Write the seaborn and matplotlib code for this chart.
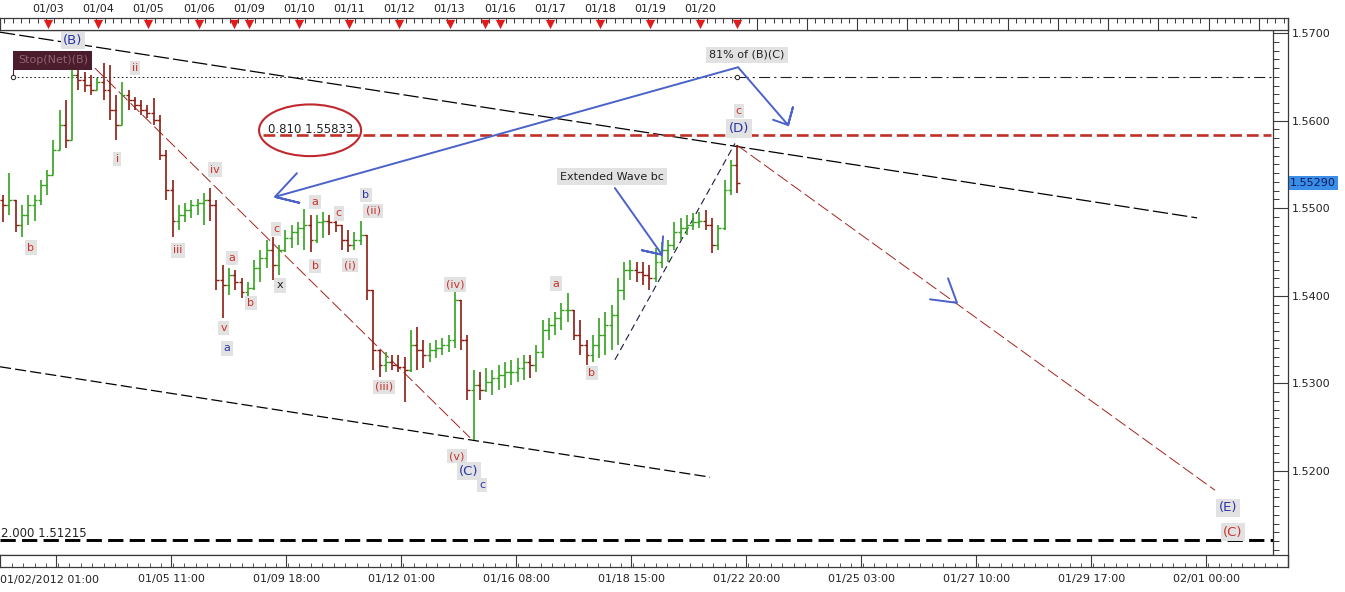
import matplotlib
matplotlib.use("Agg")
import matplotlib.pyplot as plt
from matplotlib.patches import Ellipse
from matplotlib.lines import Line2D
from matplotlib.ticker import MultipleLocator, FixedLocator
import matplotlib.transforms as mtransforms
import numpy as np
import seaborn as sns

sns.set_theme(style="white")
plt.rcParams["font.family"] = ["DejaVu Sans"]
plt.rcParams["lines.scale_dashes"] = False

# ---------------------------------------------------------------- data
# 3-hour OHLC bars, x axis counted in trading hours from 01/02 01:00
highs = [1.5515, 1.5540, 1.5509, 1.5504, 1.5515, 1.5515, 1.5532, 1.5544, 1.5578, 1.5612,
         1.5624, 1.5661, 1.5660, 1.5655, 1.5652, 1.5649, 1.5666, 1.5664, 1.5629, 1.5644,
         1.5635, 1.5627, 1.5624, 1.5618, 1.5626, 1.5606, 1.5566, 1.5532, 1.5504, 1.5506,
         1.5509, 1.5511, 1.5517, 1.5523, 1.5509, 1.5435, 1.5432, 1.5430, 1.5420, 1.5416,
         1.5441, 1.5452, 1.5464, 1.5467, 1.5458, 1.5475, 1.5481, 1.5484, 1.5499, 1.5492,
         1.5492, 1.5496, 1.5492, 1.5496, 1.5481, 1.5475, 1.5473, 1.5486, 1.5469, 1.5407,
         1.5338, 1.5336, 1.5332, 1.5332, 1.5330, 1.5361, 1.5364, 1.5350, 1.5346, 1.5350,
         1.5352, 1.5355, 1.5409, 1.5395, 1.5355, 1.5315, 1.5313, 1.5318, 1.5315, 1.5321,
         1.5324, 1.5327, 1.5329, 1.5332, 1.5332, 1.5344, 1.5372, 1.5375, 1.5381, 1.5392,
         1.5403, 1.5384, 1.5372, 1.5350, 1.5355, 1.5375, 1.5381, 1.5390, 1.5420, 1.5439,
         1.5441, 1.5439, 1.5439, 1.5435, 1.5455, 1.5461, 1.5464, 1.5484, 1.5489, 1.5492,
         1.5494, 1.5496, 1.5498, 1.5489, 1.5481, 1.5532, 1.5555, 1.5572]
lows = [1.5484, 1.5492, 1.5473, 1.5467, 1.5481, 1.5486, 1.5504, 1.5515, 1.5538, 1.5566,
        1.5569, 1.5578, 1.5635, 1.5633, 1.5629, 1.5635, 1.5624, 1.5601, 1.5578, 1.5595,
        1.5612, 1.5612, 1.5606, 1.5603, 1.5595, 1.5555, 1.5509, 1.5467, 1.5475, 1.5484,
        1.5489, 1.5492, 1.5481, 1.5486, 1.5407, 1.5375, 1.5401, 1.5407, 1.5398, 1.5395,
        1.5407, 1.5416, 1.5432, 1.5418, 1.5424, 1.5450, 1.5455, 1.5458, 1.5452, 1.5450,
        1.5460, 1.5466, 1.5469, 1.5473, 1.5452, 1.5450, 1.5452, 1.5458, 1.5395, 1.5315,
        1.5307, 1.5313, 1.5315, 1.5313, 1.5279, 1.5313, 1.5315, 1.5318, 1.5324, 1.5329,
        1.5332, 1.5336, 1.5340, 1.5338, 1.5281, 1.5235, 1.5281, 1.5290, 1.5287, 1.5293,
        1.5295, 1.5298, 1.5302, 1.5304, 1.5306, 1.5313, 1.5329, 1.5350, 1.5355, 1.5361,
        1.5370, 1.5350, 1.5332, 1.5321, 1.5324, 1.5329, 1.5332, 1.5338, 1.5344, 1.5395,
        1.5418, 1.5416, 1.5412, 1.5407, 1.5416, 1.5432, 1.5439, 1.5452, 1.5464, 1.5469,
        1.5475, 1.5477, 1.5475, 1.5449, 1.5452, 1.5475, 1.5515, 1.5517]
closes = [1.5504, 1.5509, 1.5481, 1.5492, 1.5504, 1.5509, 1.5526, 1.5538, 1.5566, 1.5595,
          1.5578, 1.5652, 1.5646, 1.5641, 1.5635, 1.5644, 1.5635, 1.5612, 1.5595, 1.5629,
          1.5624, 1.5618, 1.5612, 1.5609, 1.5601, 1.5561, 1.5521, 1.5486, 1.5492, 1.5498,
          1.5504, 1.5506, 1.5509, 1.5504, 1.5418, 1.5412, 1.5424, 1.5416, 1.5404, 1.5409,
          1.5432, 1.5443, 1.5452, 1.5435, 1.5452, 1.5466, 1.5473, 1.5477, 1.5481, 1.5464,
          1.5484, 1.5486, 1.5484, 1.5481, 1.5464, 1.5458, 1.5464, 1.5469, 1.5407, 1.5338,
          1.5321, 1.5324, 1.5321, 1.5319, 1.5315, 1.5344, 1.5338, 1.5332, 1.5338, 1.5340,
          1.5344, 1.5350, 1.5395, 1.5350, 1.5293, 1.5298, 1.5293, 1.5302, 1.5306, 1.5310,
          1.5313, 1.5313, 1.5318, 1.5324, 1.5321, 1.5336, 1.5361, 1.5367, 1.5375, 1.5384,
          1.5384, 1.5355, 1.5344, 1.5332, 1.5344, 1.5355, 1.5367, 1.5378, 1.5407, 1.5430,
          1.5430, 1.5427, 1.5424, 1.5420, 1.5439, 1.5452, 1.5458, 1.5473, 1.5477, 1.5481,
          1.5484, 1.5486, 1.5481, 1.5458, 1.5477, 1.5521, 1.5549, 1.5529]
first_open = 1.5509
last_price = 1.55290

# fib levels
fib_081 = 1.55833
fib_200 = 1.51215
stop_level = 1.5650

# trendlines (hours, price)
upper_trend_h = [0, 572.5]
upper_trend_p = [1.5701, 1.5489]
lower_trend_h = [0, 339.6]
lower_trend_p = [1.5319, 1.5193]
wave_c_h = [45.4, 224.8]
wave_c_p = [1.5660, 1.5238]
wave_e_h = [352.5, 581.1]
wave_e_p = [1.5572, 1.5178]
ext_trend_h = [294.1, 351.5]
ext_trend_p = [1.5327, 1.5574]

# blue arrows (hours, price)
arrow1_h = [142.0, 131.5, 143.5, 131.5, 353.0, 376.9, 379.3, 376.9, 369.7]
arrow1_p = [1.5540, 1.5513, 1.5506, 1.5513, 1.5661, 1.5595, 1.5616, 1.5595, 1.5601]
arrow2_h = [294.1, 316.6, 307.0, 316.6, 317.1]
arrow2_p = [1.5523, 1.5447, 1.5452, 1.5447, 1.5468]
arrow3_h = [444.8, 457.7, 453.4]
arrow3_p = [1.5396, 1.5392, 1.5420]

# wave labels
label_text = ["(B)", "ii", "i", "b", "iii", "iv", "a", "b", "v", "a", "c", "x", "a", "b",
              "c", "(i)", "(ii)", "b", "(iii)", "(iv)", "(v)", "(C)", "c", "a", "b", "c",
              "(D)", "(E)", "(C)"]
label_h = [34.9, 64.6, 56.0, 14.8, 85.1, 102.8, 111.0, 120.0, 107.1, 108.6, 132.0, 133.9,
           150.7, 150.7, 162.1, 167.4, 178.4, 175.0, 183.7, 217.6, 218.6, 224.3, 230.5,
           265.9, 283.1, 353.4, 353.4, 587.3, 589.7]
label_p = [1.5692, 1.5660, 1.5556, 1.5455, 1.5452, 1.5544, 1.5443, 1.5392, 1.5363, 1.5340,
           1.5476, 1.5412, 1.5507, 1.5434, 1.5494, 1.5435, 1.5497, 1.5515, 1.5296, 1.5413,
           1.5217, 1.5200, 1.5184, 1.5414, 1.5312, 1.5611, 1.5591, 1.5158, 1.5130]
label_kind = ["B", "r", "r", "r", "r", "r", "r", "r", "r", "b", "r", "k", "r", "r",
              "r", "r", "r", "b", "r", "r", "r", "B", "b", "r", "r", "r",
              "B", "B", "R"]

# axis ticks
day_labels = ["01/03", "01/04", "01/05", "01/06", "01/09", "01/10", "01/11", "01/12",
              "01/13", "01/16", "01/17", "01/18", "01/19", "01/20"]
day_hours = [23, 47, 71, 95, 119, 143, 167, 191, 215, 239, 263, 287, 311, 335]
week_end_hours = [112, 232, 352.5]
future_day_hours = [362, 386, 410, 434, 458, 482, 506, 530, 554, 578, 602]
time_labels = ["01/05 11:00", "01/09 18:00", "01/12 01:00", "01/16 08:00", "01/18 15:00",
               "01/22 20:00", "01/25 03:00", "01/27 10:00", "01/29 17:00", "02/01 00:00"]
time_hours = [82, 137, 192, 247, 302, 357, 412, 467, 522, 577]
price_ticks = [1.5200, 1.5300, 1.5400, 1.5500, 1.5600, 1.5700]

# ---------------------------------------------------------------- layout
W, H = 1345, 592
PX_PER_HOUR = 115 / 55


def frac(x0, y0, x1, y1):
    return [x0 / W, 1 - y1 / H, (x1 - x0) / W, (y1 - y0) / H]


UP = "#34a21f"
DOWN = "#8a1b12"
RED = "#c8322b"
BLUE = "#2a35a8"
BLUE_LINE = "#4b62c9"
FRAME = "#3a3a3a"
LABEL_COLORS = {"r": RED, "R": RED, "b": BLUE, "B": BLUE, "k": "#222222"}

fig = plt.figure(figsize=(13.45, 5.92), dpi=100)
fig.patch.set_facecolor("white")
ax = fig.add_axes(frac(0, 30, 1273, 555))
ax_top = fig.add_axes(frac(0, 18, 1288, 30))
ax_bot = fig.add_axes(frac(0, 555, 1288, 567))

ax.set_xlim(0, 1273 / PX_PER_HOUR)
ax.set_ylim(1.51041, 1.57035)
ax.set_facecolor("white")
for s in ["top", "bottom", "right"]:
    ax.spines[s].set_color(FRAME)
    ax.spines[s].set_linewidth(0.9)
ax.spines["left"].set_visible(False)

# price bars
bar_x = np.arange(len(closes)) * 3 + 1.5
opens = [first_open] + closes[:-1]
cols = np.where(np.array(closes) >= np.array(opens), UP, DOWN)
ax.vlines(bar_x, lows, highs, colors=cols, lw=1.2, zorder=3)
ax.hlines(opens, bar_x - 1.4, bar_x, colors=cols, lw=1.0, zorder=3)
ax.hlines(closes, bar_x, bar_x + 1.4, colors=cols, lw=1.0, zorder=3)

# trendlines
ax.plot(upper_trend_h, upper_trend_p, color="black", lw=0.9, dashes=(11, 3), zorder=2)
ax.plot(lower_trend_h, lower_trend_p, color="black", lw=0.9, dashes=(8, 3), zorder=2)
ax.plot(wave_c_h, wave_c_p, color="#a3231c", lw=0.7, dashes=(9, 3), zorder=2)
ax.plot(wave_e_h, wave_e_p, color="#a3231c", lw=0.7, dashes=(9, 3), zorder=2)
ax.plot(ext_trend_h, ext_trend_p, color="#1a1a40", lw=0.8, dashes=(5, 3), zorder=2)

# stop level
ax.plot([6.2, 352.5], [stop_level, stop_level], color="#222222", lw=0.7,
        dashes=(1.2, 1.8), zorder=2)
ax.plot([352.5, 1273 / PX_PER_HOUR], [stop_level, stop_level], color="#222222", lw=0.8,
        dashes=(8, 3, 1.5, 3), zorder=2)
ax.plot([6.2, 6.2], [stop_level, 1.5661], color="#4b1c2c", lw=0.8, zorder=2)
sns.scatterplot(x=[6.2, 352.5], y=[stop_level, stop_level], ax=ax, marker="o", s=10,
                color="white", edgecolor="#222222", linewidth=0.7, zorder=6, legend=False)
ax.text(8.5, 1.5669, "Stop(Net)(B)", fontsize=8, color="#8f6474", ha="left", va="center",
        zorder=7, bbox=dict(boxstyle="square,pad=0.4", fc="#4b1c2c", ec="none"))

# fib lines
ax.plot([125.8, 607.9], [fib_081, fib_081], color="#c03025", lw=1.9, dashes=(8.5, 3.5), zorder=4)
ax.text(128.2, fib_081 + 0.00025, f"0.810 {fib_081:.5f}", fontsize=8.5, color="#222222",
        ha="left", va="baseline", zorder=5)
ax.add_patch(Ellipse((148.3, 1.5589), 48.8, 0.0059, fill=False, ec="#c0282d", lw=1.5, zorder=5))
ax.plot([0, 1273 / PX_PER_HOUR], [fib_200, fib_200], color="black", lw=2.1, dashes=(11, 4.5),
        zorder=4)
ax.text(0.5, fib_200 + 0.0003, f"2.000 {fib_200:.5f}", fontsize=8.5, color="#222222",
        ha="left", va="baseline", zorder=5)

# blue arrows
ax.plot(arrow1_h, arrow1_p, color=BLUE_LINE, lw=1.4, zorder=5, solid_joinstyle="miter")
ax.plot(arrow2_h, arrow2_p, color=BLUE_LINE, lw=1.4, zorder=5)
ax.plot(arrow3_h, arrow3_p, color=BLUE_LINE, lw=1.4, zorder=5)

# text boxes
box = dict(boxstyle="square,pad=0.2", fc="#e2e2e2", ec="none")
for t, h, p, k in zip(label_text, label_h, label_p, label_kind):
    big = k in ("B", "R")
    ax.text(h, p, t, fontsize=9.5 if big else 8, color=LABEL_COLORS[k], ha="center",
            va="center", zorder=7, bbox=box)
ax.text(292.7, 1.5536, "Extended Wave bc", fontsize=8, color="#222222", ha="center",
        va="center", zorder=7, bbox=dict(boxstyle="square,pad=0.3", fc="#e2e2e2", ec="none"))
ax.text(357.3, 1.5675, "81% of (B)(C)", fontsize=8, color="#222222", ha="center",
        va="center", zorder=7, bbox=dict(boxstyle="square,pad=0.3", fc="#e2e2e2", ec="none"))

# price axis on the right
ax.yaxis.tick_right()
ax.yaxis.set_major_locator(FixedLocator(price_ticks))
ax.yaxis.set_minor_locator(MultipleLocator(0.001))
ax.set_yticklabels([f"{v:.4f}" for v in price_ticks])
ax.tick_params(axis="y", which="major", direction="out", length=10.8, width=0.8,
               color=FRAME, labelsize=8, labelcolor="#222222", pad=3, right=True, left=False)
ax.tick_params(axis="y", which="minor", direction="out", length=4, width=0.7,
               color=FRAME, right=True, left=False)
ax.set_xticks([])
trans = mtransforms.blended_transform_factory(ax.transAxes, ax.transData)
ax.text(1290 / 1273, last_price, f"{last_price:.5f}", transform=trans, fontsize=8,
        color="#0b1a5e", ha="left", va="center", zorder=8, clip_on=False,
        bbox=dict(boxstyle="square,pad=0.15", fc="#3b8ee8", ec="none"))
fig.add_artist(Line2D([1288 / W, 1288 / W], [1 - 567 / H, 1 - 18 / H], color=FRAME, lw=0.9))

# top date ruler
ax_top.set_xlim(0, 1288 / PX_PER_HOUR)
ax_top.set_ylim(0, 1)
ax_top.set_yticks([])
for s in ax_top.spines.values():
    s.set_color(FRAME)
    s.set_linewidth(0.9)
ax_top.vlines(np.arange(2, 616, 4), 0.6, 1.0, color=FRAME, lw=0.7)
ax_top.vlines(future_day_hours, 0.0, 1.0, color=FRAME, lw=0.8)
ax_top.scatter(day_hours + week_end_hours, [0.5] * (len(day_hours) + len(week_end_hours)),
               marker="v", s=45, color="#e01b1b", zorder=4, linewidths=0)
ax_top.set_xticks(day_hours)
ax_top.set_xticklabels(day_labels)
ax_top.tick_params(axis="x", length=0, labeltop=True, labelbottom=False, labelsize=8,
                   labelcolor="#222222", pad=3)

# bottom time ruler
ax_bot.set_xlim(0, 1288 / PX_PER_HOUR)
ax_bot.set_ylim(0, 1)
ax_bot.set_yticks([])
for s in ax_bot.spines.values():
    s.set_color(FRAME)
    s.set_linewidth(0.9)
ax_bot.vlines([27] + time_hours, 0, 1, color=FRAME, lw=0.8)
ax_bot.vlines(np.arange(5.5, 616, 5.5), 0, 0.35, color=FRAME, lw=0.6)
ax_bot.set_xticks(time_hours)
ax_bot.set_xticklabels(time_labels)
ax_bot.tick_params(axis="x", length=0, labelsize=8, labelcolor="#222222", pad=5)
ax_bot.text(0, -1.08, "01/02/2012 01:00", transform=ax_bot.get_xaxis_transform(),
            fontsize=8, color="#222222", ha="left", va="center")

fig.savefig("out.png", dpi=100, facecolor="white")
